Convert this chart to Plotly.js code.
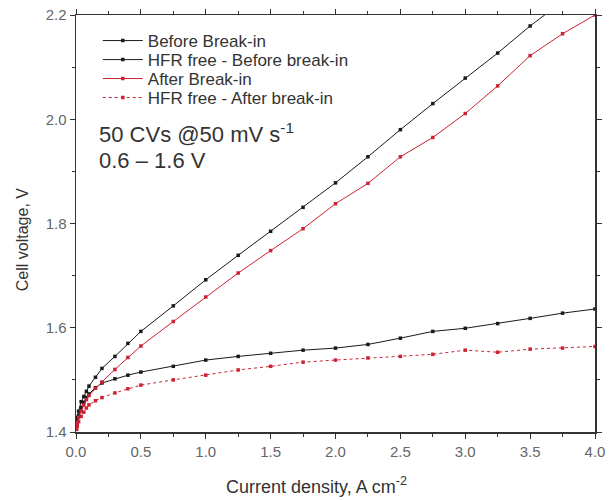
<!DOCTYPE html>
<html>
<head>
<meta charset="utf-8">
<script src="https://cdn.plot.ly/plotly-3.0.1.min.js"></script>
<style>
  html, body { margin: 0; padding: 0; background: #fff; }
  #chart { width: 611px; height: 500px; }
</style>
</head>
<body>
<div id="chart"></div>
<script>
// Current density, A cm^-2
const currentDensity = [0.005, 0.01, 0.02, 0.04, 0.06, 0.08, 0.1, 0.15, 0.2, 0.3, 0.4, 0.5,
  0.75, 1.0, 1.25, 1.5, 1.75, 2.0, 2.25, 2.5, 2.75, 3.0, 3.25, 3.5, 3.75, 4.0];

// Cell voltage, V
const beforeBreakIn = [1.415, 1.428, 1.440, 1.458, 1.468, 1.478, 1.488, 1.505, 1.522, 1.545, 1.570, 1.593,
  1.642, 1.692, 1.739, 1.785, 1.831, 1.878, 1.928, 1.980, 2.030, 2.079, 2.127, 2.179, 2.226, 2.273];
const hfrFreeBefore = [1.412, 1.422, 1.432, 1.447, 1.457, 1.466, 1.473, 1.485, 1.494, 1.502, 1.509, 1.515,
  1.526, 1.538, 1.545, 1.551, 1.557, 1.561, 1.568, 1.580, 1.593, 1.599, 1.608, 1.618, 1.628, 1.636];
const afterBreakIn = [1.410, 1.418, 1.428, 1.440, 1.452, 1.462, 1.470, 1.484, 1.496, 1.520, 1.543, 1.565,
  1.612, 1.659, 1.705, 1.748, 1.790, 1.838, 1.877, 1.928, 1.965, 2.011, 2.064, 2.122, 2.164, 2.200];
const hfrFreeAfter = [1.405, 1.412, 1.420, 1.430, 1.438, 1.446, 1.452, 1.460, 1.466, 1.475, 1.483, 1.490,
  1.500, 1.509, 1.519, 1.526, 1.534, 1.538, 1.542, 1.545, 1.549, 1.557, 1.553, 1.559, 1.561, 1.564];

const seriesNames = ['Before Break-in', 'HFR free - Before break-in', 'After Break-in', 'HFR free - After break-in'];
const xTickLabels = ['0.0', '0.5', '1.0', '1.5', '2.0', '2.5', '3.0', '3.5', '4.0'];
const yTickLabels = ['1.4', '1.6', '1.8', '2.0', '2.2'];

const BLACK = '#1a1a1a';
const RED = '#cc2233';
const FONT = '"Liberation Sans", Arial, sans-serif';

function series(name, y, color, dash, legendId) {
  return {
    type: 'scatter', mode: 'lines+markers', name: name, legend: legendId,
    x: currentDensity, y: y,
    line: { color: color, width: 1, dash: dash },
    marker: { color: color, size: 3.5, symbol: 'square' }
  };
}

const data = [
  series(seriesNames[0], beforeBreakIn, BLACK, 'solid', 'legend'),
  series(seriesNames[1], hfrFreeBefore, BLACK, 'solid', 'legend2'),
  series(seriesNames[2], afterBreakIn, RED, 'solid', 'legend3'),
  series(seriesNames[3], hfrFreeAfter, RED, 'dot', 'legend4')
];

const xTickVals = xTickLabels.map(Number);
const yTickVals = yTickLabels.map(Number);

// one legend box per row so the rows sit tight together
function legendRow(y) {
  return {
    x: 0.042, y: y, xanchor: 'left', yanchor: 'middle',
    bgcolor: 'rgba(0,0,0,0)', borderwidth: 0,
    font: { family: FONT, size: 17, color: '#333' },
    itemwidth: 40
  };
}

const layout = {
  width: 611, height: 500,
  margin: { l: 76, r: 16, t: 15, b: 68 },
  paper_bgcolor: '#fff', plot_bgcolor: '#fff',
  font: { family: FONT, color: '#444' },
  showlegend: true,
  legend: legendRow(0.9376),
  legend2: legendRow(0.892),
  legend3: legendRow(0.8465),
  legend4: legendRow(0.801),
  xaxis: {
    range: [0, 4], tickvals: xTickVals, ticktext: xTickLabels,
    ticks: 'outside', ticklen: 5, tickwidth: 1, tickcolor: '#333',
    minor: { dtick: 0.25, tick0: 0, ticks: 'outside', ticklen: 3, tickcolor: '#333' },
    showline: true, mirror: 'allticks', linecolor: '#333', linewidth: 1.5,
    showgrid: false, zeroline: false,
    tickfont: { family: FONT, size: 15, color: '#666' }
  },
  yaxis: {
    range: [1.4, 2.2], tickvals: yTickVals, ticktext: yTickLabels,
    ticks: 'outside', ticklen: 5, tickwidth: 1, tickcolor: '#333',
    minor: { dtick: 0.1, tick0: 1.4, ticks: 'outside', ticklen: 3, tickcolor: '#333' },
    showline: true, mirror: 'allticks', linecolor: '#333', linewidth: 1.5,
    showgrid: false, zeroline: false,
    tickfont: { family: FONT, size: 15, color: '#666' }
  },
  annotations: [
    { xref: 'paper', yref: 'paper', x: 0.040, y: 0.717, xanchor: 'left', yanchor: 'middle',
      text: '50 CVs @50 mV s<sup>-1</sup>', showarrow: false,
      font: { family: FONT, size: 22, color: '#333' } },
    { xref: 'paper', yref: 'paper', x: 0.040, y: 0.650, xanchor: 'left', yanchor: 'middle',
      text: '0.6 \u2013 1.6 V', showarrow: false,
      font: { family: FONT, size: 22, color: '#333' } },
    // axis titles
    { xref: 'paper', yref: 'paper', x: 0.464, y: -0.128, xanchor: 'center', yanchor: 'middle',
      text: 'Current density, A cm<sup>-2</sup>', showarrow: false,
      font: { family: FONT, size: 18, color: '#333' } },
    { xref: 'paper', yref: 'paper', x: -0.104, y: 0.46, xanchor: 'center', yanchor: 'middle',
      text: 'Cell voltage, V', showarrow: false, textangle: -90,
      font: { family: FONT, size: 16, color: '#333' } }
  ]
};

Plotly.newPlot('chart', data, layout, { displayModeBar: false, staticPlot: true });
</script>
</body>
</html>
